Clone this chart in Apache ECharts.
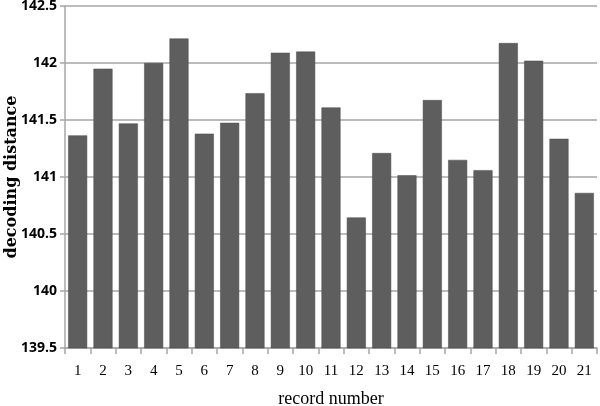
<!DOCTYPE html>
<html>
<head>
<meta charset="utf-8">
<script src="https://cdn.jsdelivr.net/npm/echarts@6/dist/echarts.min.js"></script>
<style>html,body{margin:0;padding:0;background:#fff}#c{width:600px;height:406px}</style>
</head>
<body>
<div id="c"></div>
<script>
var categories = ["1","2","3","4","5","6","7","8","9","10","11","12","13","14","15","16","17","18","19","20","21"];
var values = [141.365,141.95,141.47,142.0,142.215,141.38,141.475,141.735,142.09,142.1,141.61,140.645,141.21,141.015,141.675,141.15,141.06,142.175,142.02,141.335,140.86];
var yTicks = {min:139.5, max:142.5, interval:0.5};

var chart = echarts.init(document.getElementById('c'), null, {renderer:'canvas'});
chart.setOption({
  animation:false,
  grid:{left:65, right:3, top:6, bottom:58, containLabel:false, outerBoundsMode:'none'},
  xAxis:{
    type:'category', data:categories,
    name:'record number', nameLocation:'middle', nameGap:42, nameMoveOverlap:false,
    nameTextStyle:{fontFamily:'Liberation Serif', fontSize:18, color:'#000'},
    axisLine:{lineStyle:{color:'#a6a6a6', width:1.5}},
    axisTick:{show:true, alignWithLabel:false, length:6, lineStyle:{color:'#a6a6a6', width:1.5}},
    axisLabel:{fontFamily:'Liberation Serif', fontSize:15, color:'#000', margin:16}
  },
  yAxis:{
    type:'value', min:yTicks.min, max:yTicks.max, interval:yTicks.interval,
    name:'decoding distance', nameLocation:'middle', nameGap:45, nameMoveOverlap:false,
    nameTextStyle:{fontFamily:'DejaVu Serif', fontWeight:'bold', fontSize:16, color:'#000'},
    axisLine:{show:true, lineStyle:{color:'#a6a6a6', width:1.5}},
    axisTick:{show:true, length:5, lineStyle:{color:'#a6a6a6', width:1.5}},
    splitLine:{lineStyle:{color:'#a6a6a6', width:1.5}},
    axisLabel:{fontFamily:'Open Sans', fontWeight:'bold', fontSize:14, color:'#000', margin:8,
      formatter:function(v){return String(Math.round(v*10)/10);}}
  },
  series:[{
    type:'bar', data:values, barCategoryGap:'25%',
    itemStyle:{color:'#5e5e5e', borderColor:'#4a4a4a', borderWidth:0.5}
  }]
});
</script>
</body>
</html>
